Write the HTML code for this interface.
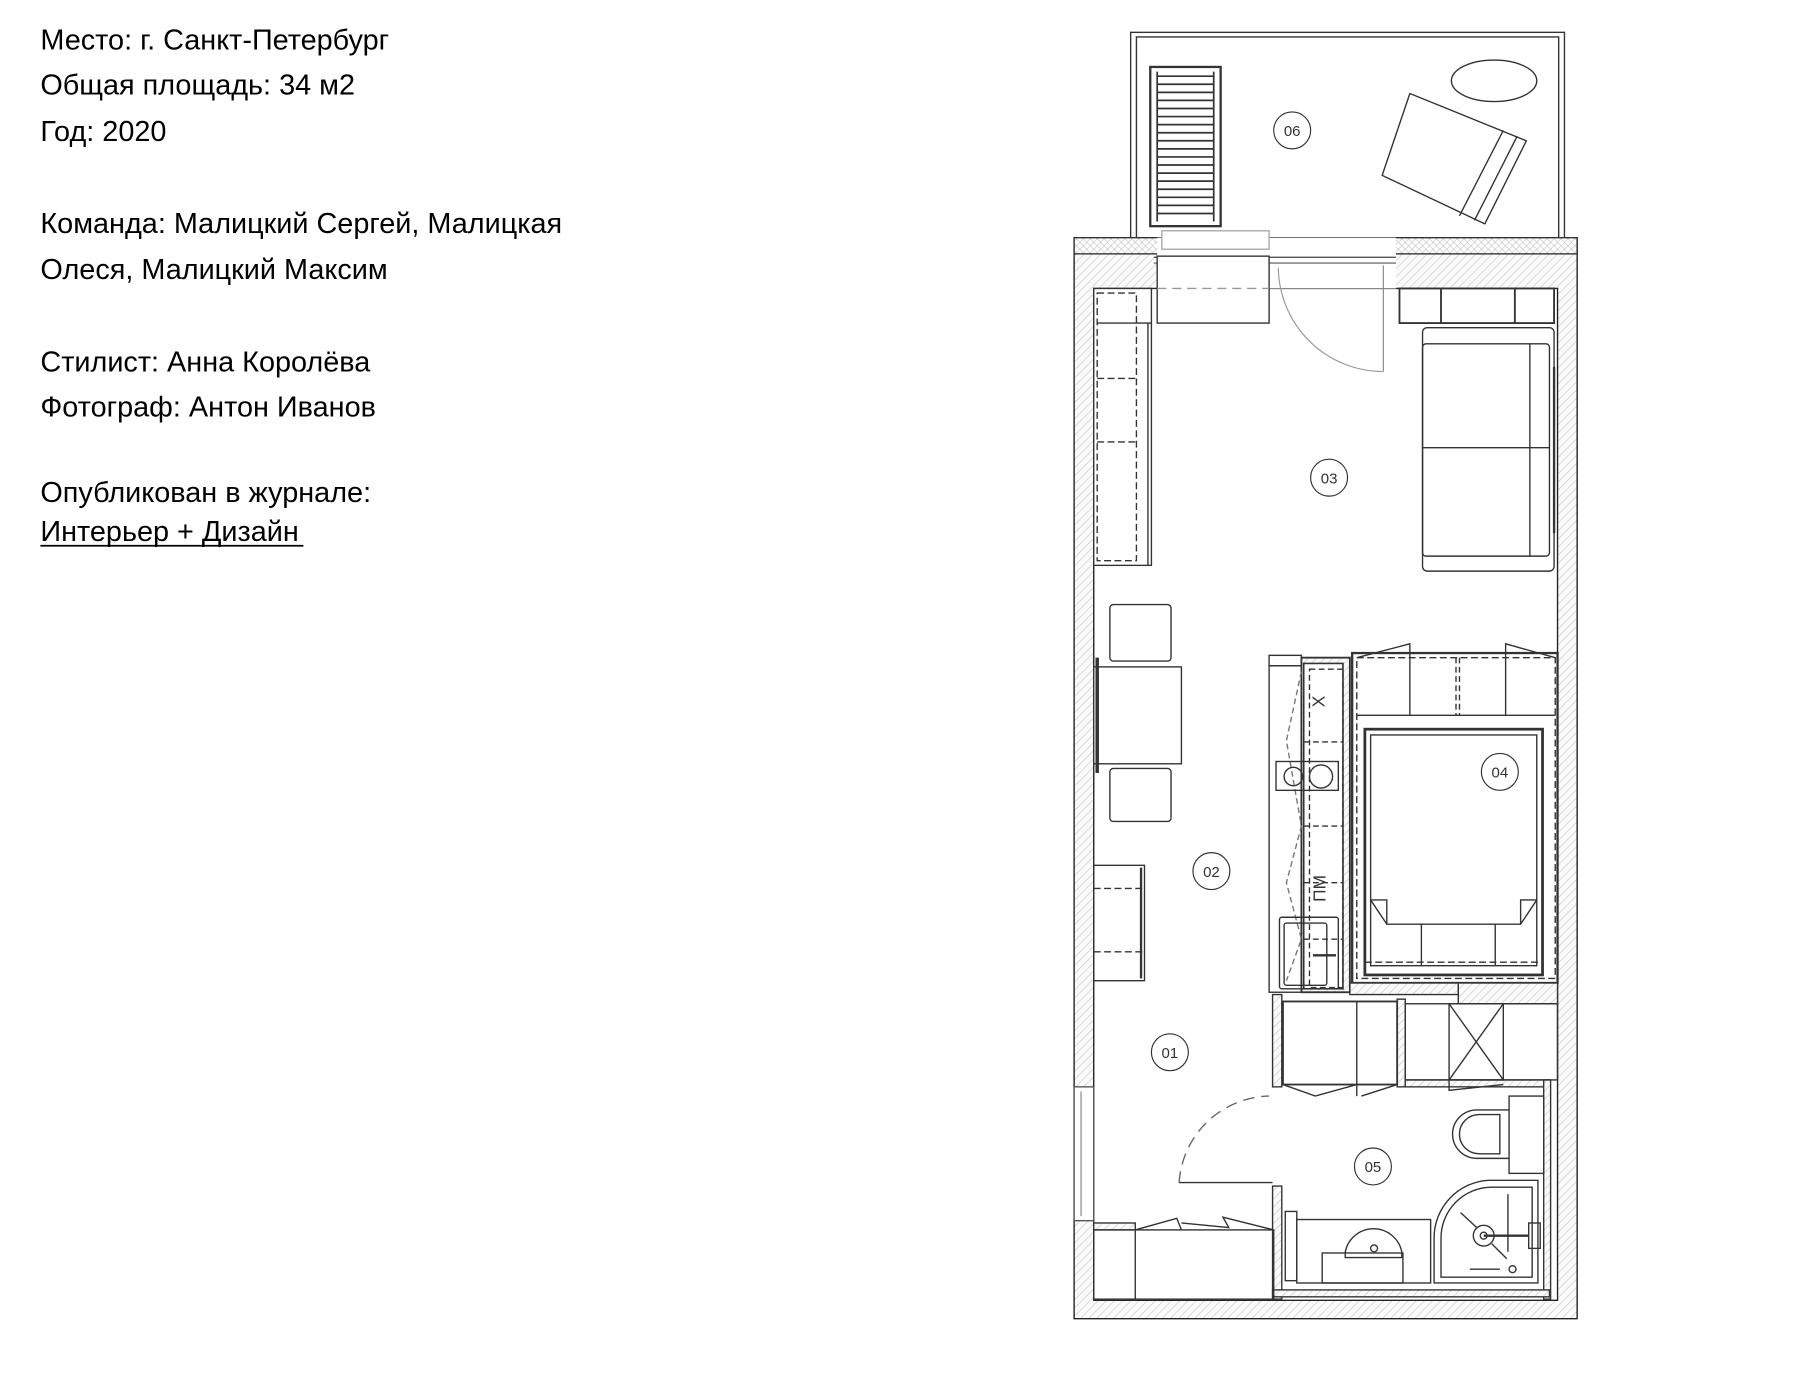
<!DOCTYPE html>
<html><head><meta charset="utf-8"><style>
html,body{margin:0;padding:0;background:#fff;}
svg{display:block}
</style></head><body>
<svg width="1810" height="1378" viewBox="0 0 1550 1180" xmlns="http://www.w3.org/2000/svg">
<defs>
<pattern id="h" width="5" height="5" patternUnits="userSpaceOnUse" patternTransform="rotate(45)">
<rect width="5" height="5" fill="#fafafa"/><line x1="0" y1="0" x2="0" y2="5" stroke="#c4c4c4" stroke-width="1"/>
</pattern>
<pattern id="x" width="6" height="6" patternUnits="userSpaceOnUse">
<rect width="6" height="6" fill="#fff"/><path d="M0 0L6 6M6 0L0 6" stroke="#c8c8c8" stroke-width="0.6"/>
</pattern>
</defs>
<g transform="scale(0.988)">
<g font-family="Liberation Sans, Arial, sans-serif" font-size="25" fill="#000">
<text x="35" y="43">Место: г. Санкт-Петербург</text>
<text x="35" y="82">Общая площадь: 34 м2</text>
<text x="35" y="122">Год: 2020</text>
<text x="35" y="202">Команда: Малицкий Сергей, Малицкая</text>
<text x="35" y="242">Олеся, Малицкий Максим</text>
<text x="35" y="322">Стилист: Анна Королёва</text>
<text x="35" y="361">Фотограф: Антон Иванов</text>
<text x="35" y="435">Опубликован в журнале:</text>
<text x="35" y="469">Интерьер + Дизайн</text>
</g>
<line x1="35" y1="473" x2="263" y2="473" stroke="#000" stroke-width="1.5"/>

<g fill="none" stroke="#333" stroke-width="1.2">
<rect x="980" y="28" width="376" height="180" fill="#fff"/>
<rect x="985" y="32" width="366" height="176"/>
<rect x="997" y="58" width="61" height="138" stroke-width="2"/>
<g stroke-width="1.5">
<line x1="1003" y1="66" x2="1052" y2="66"/><line x1="1003" y1="73" x2="1052" y2="73"/><line x1="1003" y1="80" x2="1052" y2="80"/><line x1="1003" y1="87" x2="1052" y2="87"/><line x1="1003" y1="94" x2="1052" y2="94"/><line x1="1003" y1="101" x2="1052" y2="101"/><line x1="1003" y1="108" x2="1052" y2="108"/><line x1="1003" y1="115" x2="1052" y2="115"/><line x1="1003" y1="122" x2="1052" y2="122"/><line x1="1003" y1="129" x2="1052" y2="129"/><line x1="1003" y1="136" x2="1052" y2="136"/><line x1="1003" y1="143" x2="1052" y2="143"/><line x1="1003" y1="150" x2="1052" y2="150"/><line x1="1003" y1="157" x2="1052" y2="157"/><line x1="1003" y1="164" x2="1052" y2="164"/><line x1="1003" y1="171" x2="1052" y2="171"/><line x1="1003" y1="178" x2="1052" y2="178"/><line x1="1003" y1="185" x2="1052" y2="185"/>
<line x1="1003" y1="62" x2="1003" y2="192"/><line x1="1052" y1="62" x2="1052" y2="192"/>
</g>
<ellipse cx="1295" cy="70" rx="37" ry="18"/>
<path d="M1222 81 L1323 122 L1287 194 L1198 152 Z" stroke-linejoin="round"/>
<line x1="1303" y1="113" x2="1265" y2="187"/><line x1="1315" y1="118" x2="1278" y2="191"/>

<path d="M931 206 H1367 V1143 H931 Z M948 250 V1127 H1350 V250 Z" fill="url(#h)" fill-rule="evenodd" stroke="#222"/>
<rect x="931" y="206" width="436" height="14" fill="url(#x)" stroke="#333"/>
<rect x="1003" y="206" width="207" height="44" fill="#fff" stroke="none"/>
<rect x="1007" y="200" width="93" height="16" fill="#fff" stroke="#aaa"/>
<line x1="1000" y1="223" x2="1210" y2="223" stroke="#555"/>
<line x1="1000" y1="228" x2="1210" y2="228" stroke="#777"/>
<rect x="1003" y="222" width="97" height="58" fill="#fff"/>
<line x1="1003" y1="250" x2="1100" y2="250" stroke="#999" stroke-dasharray="8,5"/>
<line x1="1199" y1="230" x2="1199" y2="322" stroke="#888" stroke-width="1"/>
<path d="M1108 232 A91 91 0 0 0 1199 322" stroke="#999" stroke-width="1"/>
<rect x="931" y="942" width="17" height="116" fill="#fff" stroke="#555"/>
<line x1="937" y1="946" x2="937" y2="1054" stroke="#999"/>

<rect x="948" y="250" width="50" height="240" fill="#fff"/>
<rect x="951" y="254" width="34" height="232" stroke-dasharray="6,3"/>
<line x1="951" y1="328" x2="985" y2="328" stroke-dasharray="6,3"/>
<line x1="951" y1="383" x2="985" y2="383" stroke-dasharray="6,3"/>
<line x1="951" y1="280" x2="998" y2="280"/>
<line x1="995" y1="280" x2="995" y2="490"/>

<rect x="1213" y="250" width="134" height="30" stroke-width="1.6"/>
<line x1="1249" y1="250" x2="1249" y2="280" stroke-width="1.6"/><line x1="1313" y1="250" x2="1313" y2="280" stroke-width="1.6"/>
<rect x="1233" y="284" width="114" height="211" rx="4"/>
<rect x="1233" y="298" width="110" height="184" rx="3"/>
<line x1="1233" y1="388" x2="1343" y2="388"/>
<line x1="1326" y1="298" x2="1326" y2="482"/>
<line x1="1347" y1="318" x2="1347" y2="462" stroke-width="2"/>

<rect x="948" y="578" width="76" height="84" fill="#fff"/>
<rect x="962" y="524" width="53" height="49" rx="3"/>
<rect x="962" y="666" width="53" height="46" rx="3"/>
<line x1="951" y1="570" x2="951" y2="670" stroke-width="3"/>
<rect x="948" y="750" width="44" height="100"/>
<line x1="948" y1="770" x2="990" y2="770" stroke-dasharray="6,3"/>
<line x1="948" y1="825" x2="990" y2="825" stroke-dasharray="6,3"/>
<line x1="989" y1="752" x2="989" y2="848" stroke-width="2"/>

<rect x="1100" y="577" width="30" height="283"/>
<rect x="1100" y="568" width="28" height="9"/>
<rect x="1128" y="570" width="42" height="290" fill="url(#h)" stroke-width="1.6"/>
<rect x="1130" y="575" width="34" height="282" fill="#fff" stroke-width="1.4"/>
<rect x="1135" y="580" width="29" height="276" stroke-dasharray="5,3"/>
<line x1="1130" y1="643" x2="1164" y2="643" stroke-dasharray="5,3"/>
<line x1="1130" y1="716" x2="1164" y2="716" stroke-dasharray="5,3"/>
<line x1="1130" y1="765" x2="1164" y2="765" stroke-dasharray="5,3"/>
<line x1="1130" y1="814" x2="1164" y2="814" stroke-dasharray="5,3"/>
<path d="M1128 582 L1115 642 L1128 716 L1115 765 L1128 814 L1115 850" stroke="#777" stroke-dasharray="5,3"/>
<rect x="1106" y="660" width="54" height="25"/>
<circle cx="1121" cy="673" r="8"/><circle cx="1145" cy="673" r="10"/>
<rect x="1109" y="795" width="51" height="62" rx="2"/>
<rect x="1113" y="800" width="37" height="54" rx="2"/>
<line x1="1138" y1="828" x2="1158" y2="828" stroke-width="2"/>

<rect x="1172" y="566" width="178" height="286" stroke-width="2"/>
<rect x="1176" y="570" width="172" height="278" stroke-dasharray="6,3"/>
<path d="M1176 570 L1222 558 V620 M1348 570 L1305 558 V620" />
<line x1="1176" y1="620" x2="1348" y2="620"/>
<line x1="1262" y1="570" x2="1262" y2="620" stroke-dasharray="5,3"/><line x1="1265" y1="570" x2="1265" y2="620" stroke-dasharray="5,3"/>
<rect x="1183" y="632" width="154" height="213" stroke-width="2.4"/>
<rect x="1188" y="637" width="144" height="200"/>
<path d="M1188 780 H1202 V801 H1318 V780 H1332 M1188 780 L1202 801 M1332 780 L1318 801"/>
<line x1="1232" y1="801" x2="1232" y2="837"/><line x1="1296" y1="801" x2="1296" y2="837"/>
<line x1="1183" y1="834" x2="1337" y2="834" stroke-dasharray="6,3"/>

<rect x="1170" y="852" width="94" height="10" fill="url(#h)"/>
<rect x="1264" y="852" width="86" height="18" fill="url(#h)"/>
<rect x="1103" y="862" width="8" height="80" fill="url(#h)"/>
<rect x="1103" y="1028" width="8" height="98" fill="url(#h)"/>
<rect x="1211" y="866" width="7" height="76" fill="url(#h)"/>
<rect x="1218" y="936" width="125" height="6" fill="url(#h)"/>
<rect x="1338" y="936" width="6" height="190" fill="url(#h)"/>
<rect x="1103" y="1118" width="240" height="6" fill="url(#h)"/>
<rect x="1112" y="868" width="99" height="72" stroke-width="1.6"/>
<line x1="1176" y1="868" x2="1176" y2="940"/>
<path d="M1112 940 L1140 950 L1176 940 M1176 940 L1176 950 M1180 950 L1211 940"/>
<rect x="1218" y="870" width="132" height="66"/>
<rect x="1256" y="870" width="47" height="66"/>
<path d="M1256 870 L1303 936 M1303 870 L1256 936"/>
<path d="M1256 936 L1256 945 L1303 940"/>

<rect x="1308" y="950" width="30" height="67"/>
<path d="M1308 962 H1280 A20 20 0 0 0 1280 1004 H1308" />
<path d="M1300 966 H1282 A16 16 0 0 0 1282 1000 H1300 Z"/>
<path d="M1333 1023 H1290 A50 50 0 0 0 1243 1073 V1112 H1333 Z"/>
<path d="M1328 1029 H1292 A44 44 0 0 0 1249 1073 V1107 H1328 Z"/>
<circle cx="1286" cy="1071" r="9"/><circle cx="1286" cy="1071" r="3"/>
<line x1="1286" y1="1071" x2="1325" y2="1071" stroke-width="2"/>
<line x1="1266" y1="1051" x2="1280" y2="1064"/><line x1="1293" y1="1078" x2="1306" y2="1091"/>
<line x1="1307" y1="1035" x2="1307" y2="1085"/>
<line x1="1274" y1="1100" x2="1300" y2="1100"/>
<circle cx="1311" cy="1100" r="3"/>
<rect x="1325" y="1060" width="10" height="22"/>
<rect x="1114" y="1050" width="10" height="60"/>
<rect x="1124" y="1057" width="116" height="55"/>
<rect x="1146" y="1086" width="70" height="26"/>
<path d="M1166 1085 A25 25 0 0 1 1215 1085 V1090 H1166 Z"/>
<circle cx="1191" cy="1082" r="3"/>
<path d="M1022 1025 A80 80 0 0 1 1100 950" stroke="#666" stroke-dasharray="10,6"/>
<line x1="1022" y1="1025" x2="1103" y2="1025"/>
<rect x="948" y="1060" width="36" height="6" fill="url(#h)"/>
<rect x="948" y="1066" width="156" height="60"/>
<line x1="984" y1="1066" x2="984" y2="1126"/>
<path d="M984 1066 L1020 1056 L1024 1066 M1024 1060 L1065 1064 L1060 1055 L1104 1066" />
</g>

<g font-family="Liberation Sans, DejaVu Sans, sans-serif" font-size="13" fill="#333" text-anchor="middle" stroke="none">
<circle cx="1120" cy="113" r="16" fill="#fff" stroke="#333"/><text x="1120" y="118">06</text>
<circle cx="1152" cy="414" r="16" fill="#fff" stroke="#333"/><text x="1152" y="419">03</text>
<circle cx="1050" cy="755" r="16" fill="#fff" stroke="#333"/><text x="1050" y="760">02</text>
<circle cx="1014" cy="912" r="16" fill="#fff" stroke="#333"/><text x="1014" y="917">01</text>
<circle cx="1300" cy="669" r="16" fill="#fff" stroke="#333"/><text x="1300" y="674">04</text>
<circle cx="1190" cy="1011" r="16" fill="#fff" stroke="#333"/><text x="1190" y="1016">05</text>
<text x="1143" y="613" font-size="15" transform="rotate(-90 1143 608)">Х</text>
<text x="1143" y="776" font-size="15" transform="rotate(-90 1143 770)">ПМ</text>
</g>
</g>
</svg>
</body></html>
